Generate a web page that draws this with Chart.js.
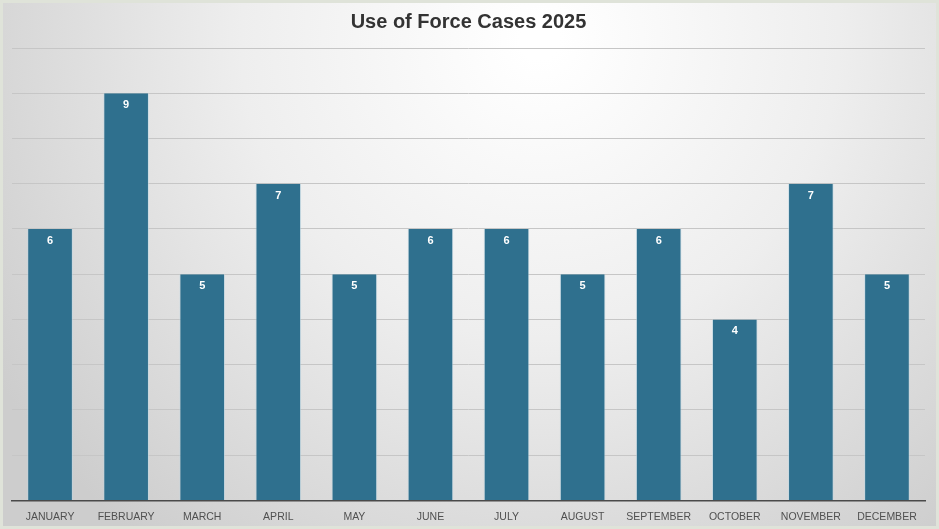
<!DOCTYPE html>
<html>
<head>
<meta charset="utf-8">
<script src="https://cdn.jsdelivr.net/npm/chart.js@4"></script>
<style>
  html, body { margin: 0; padding: 0; background: #dfe3d9; }
  #wrap { width: 939px; height: 529px; }
</style>
</head>
<body>
<div id="wrap"><canvas id="myChart" width="939" height="529"></canvas></div>
<script>
// data
const months = ["JANUARY", "FEBRUARY", "MARCH", "APRIL", "MAY", "JUNE", "JULY",
  "AUGUST", "SEPTEMBER", "OCTOBER", "NOVEMBER", "DECEMBER"];
const cases = [6, 9, 5, 7, 5, 6, 6, 5, 6, 4, 7, 5];
const yTicks = [0, 1, 2, 3, 4, 5, 6, 7, 8, 9, 10];

// gray panel with soft radial light
const panelBg = {
  id: "panelBg",
  beforeDraw(chart) {
    const { ctx, width, height } = chart;
    ctx.save();
    ctx.fillStyle = "#dfe3d9";
    ctx.fillRect(0, 0, width, height);
    let g = ctx.createRadialGradient(540, 40, 20, 540, 40, 640);
    g.addColorStop(0, "#ffffff");
    g.addColorStop(0.45, "#eeeeee");
    g.addColorStop(1, "#cdcdcd");
    ctx.fillStyle = g;
    ctx.fillRect(3, 3, width - 6, height - 6);
    ctx.restore();
  },
};

// white value inside top of each bar
const barValues = {
  id: "barValues",
  afterDatasetsDraw(chart) {
    const { ctx } = chart;
    const meta = chart.getDatasetMeta(0);
    ctx.save();
    ctx.fillStyle = "#ffffff";
    ctx.font = "bold 11px 'Liberation Sans', Arial, sans-serif";
    ctx.textAlign = "center";
    ctx.textBaseline = "middle";
    meta.data.forEach((bar, i) => {
      ctx.fillText(cases[i], bar.x, bar.y + 12);
    });
    ctx.restore();
  },
};

const ctx = document.getElementById("myChart").getContext("2d");
const myChart = new Chart(ctx, {
  type: "bar",
  data: {
    labels: months,
    datasets: [
      {
        data: cases,
        backgroundColor: "#2f708e",
        borderColor: "rgba(190, 215, 228, 0.6)",
        borderWidth: { left: 1, right: 1, top: 0, bottom: 0 },
        categoryPercentage: 1,
        barPercentage: 0.6,
      },
    ],
  },
  options: {
    responsive: false,
    animation: false,
    events: [],
    layout: { padding: { left: 12, right: 14, top: 0, bottom: 4 } },
    plugins: {
      legend: { display: false },
      tooltip: { enabled: false },
      title: {
        display: true,
        text: "Use of Force Cases 2025",
        color: "#333333",
        font: { family: "'Liberation Sans', Arial, sans-serif", size: 20, weight: "bold" },
        padding: { top: 10, bottom: 14 },
      },
    },
    scales: {
      x: {
        grid: { display: false },
        border: { display: true, color: "#4a4a4a", width: 1.5 },
        ticks: {
          color: "#505050",
          font: { family: "'Liberation Sans', Arial, sans-serif", size: 10.5 },
          padding: 2,
          maxRotation: 0,
          autoSkip: false,
        },
      },
      y: {
        min: yTicks[0],
        max: yTicks[yTicks.length - 1],
        afterBuildTicks(scale) {
          scale.ticks = yTicks.map((v) => ({ value: v }));
        },
        ticks: { display: false },
        grid: { color: "#c6c6c6", lineWidth: 1, drawTicks: false },
        border: { display: false },
      },
    },
  },
  plugins: [panelBg, barValues],
});
</script>
</body>
</html>
